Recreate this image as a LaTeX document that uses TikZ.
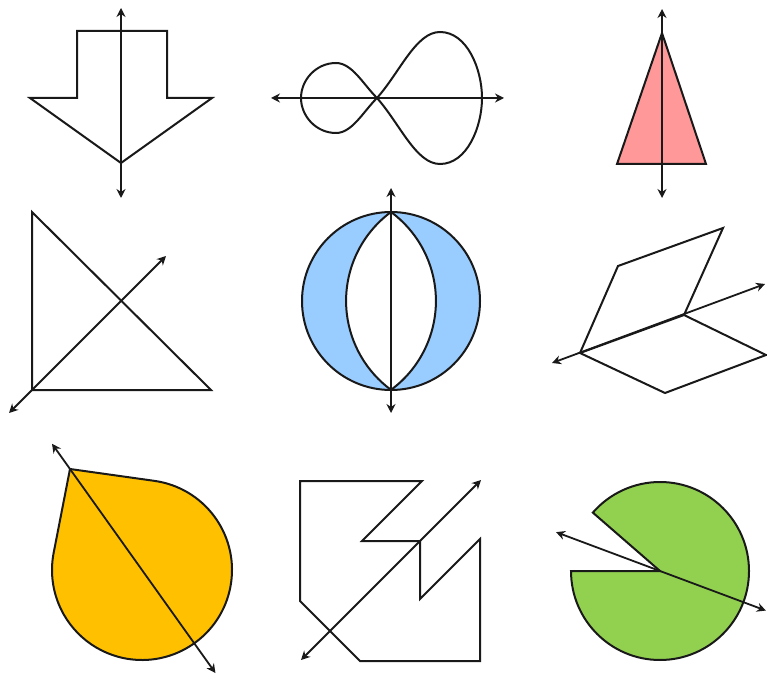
\documentclass[tikz,border=0pt]{standalone}
\usepackage{xcolor}
\usepackage{tikz}
\usetikzlibrary{arrows.meta, calc}
\definecolor{mydark}{RGB}{25,25,25}
\definecolor{mypink}{RGB}{255,153,153}
\definecolor{myblue}{RGB}{153,204,255}
\definecolor{myorange}{RGB}{255,192,0}
\definecolor{mygreen}{RGB}{146,208,80}
\tikzset{
  outline/.style={line width=2pt, color=mydark, line join=miter},
  symaxis/.style={{Stealth[length=9pt,width=9pt,inset=3pt]}-{Stealth[length=9pt,width=9pt,inset=3pt]}, line width=1.8pt, color=mydark}
}
\begin{document}
\begin{tikzpicture}[x=1pt, y=1pt]
  \useasboundingbox (0,0) rectangle (767,675);

  % Arrow pointing down
  \draw[outline] (77,644) -- (167,644) -- (167,577) -- (212,577) -- (121,512) -- (30,577) -- (77,577) -- cycle;
  \coordinate (a1) at (121,667);
  \coordinate (a2) at (121,477);
  \draw[symaxis] (a1) -- (a2);

  % Figure eight with one big loop
  \coordinate (E) at (377,577);
  \draw[outline] (E) .. controls (363,591) and (352,612) .. (336,612)
    .. controls (316,612) and (301,595) .. (301,577)
    .. controls (301,559) and (316,542) .. (336,542)
    .. controls (352,542) and (363,563) .. (E)
    .. controls (400,603) and (416,643) .. (440,643)
    .. controls (467,643) and (482,606) .. (482,577)
    .. controls (482,548) and (467,511) .. (440,511)
    .. controls (416,511) and (400,551) .. (E);
  \coordinate (b1) at (271,577);
  \coordinate (b2) at (504,577);
  \draw[symaxis] (b1) -- (b2);

  % Isosceles triangle
  \draw[outline, fill=mypink] (662,642) -- (706,511) -- (617,511) -- cycle;
  \coordinate (c1) at (662,666);
  \coordinate (c2) at (662,477);
  \draw[symaxis] (c1) -- (c2);

  % Right isosceles triangle
  \draw[outline] (32,463) coordinate (T) -- (32,285) coordinate (R) -- (211,285) -- cycle;
  \coordinate (d1) at (9,262);
  \coordinate (d2) at (166,419);
  \draw[symaxis] (d1) -- (d2);

  % Circle with a lens cut out
  \coordinate (O) at (391,374);
  \fill[myblue] (O) circle (89);
  \draw[outline, fill=white] (391,463) arc[start angle=126.4, end angle=233.6, radius=110.5]
    arc[start angle=-53.6, end angle=53.6, radius=110.5] -- cycle;
  \draw[outline] (O) circle (89);
  \coordinate (e1) at (391,487);
  \coordinate (e2) at (391,262);
  \draw[symaxis] (e1) -- (e2);

  % Two rhombi sharing an edge
  \coordinate (P) at (580,322);
  \coordinate (Q) at (684,360);
  \draw[outline] (P) -- (618,409) -- (723,447) -- (Q) -- (766,320) -- (665,282) -- (P) -- (Q);
  \coordinate (f1) at (552,312);
  \coordinate (f2) at (765,391);
  \draw[symaxis] (f1) -- (f2);

  % Teardrop
  \coordinate (tip) at (70,206);
  \coordinate (ctr) at (142,105);
  \draw[outline, fill=myorange] (tip) -- ($(ctr)+(82:90)$) arc[start angle=82, end angle=-191, radius=90] -- cycle;
  \coordinate (g1) at ($(tip)!-0.25!(ctr)$);
  \coordinate (g2) at ($(tip)!2.02!(ctr)$);
  \draw[symaxis] (g1) -- (g2);

  % Zigzag polygon
  \draw[outline] (300,194) -- (422,194) -- (362,134) -- (420,134) -- (420,76) -- (480,136)
    -- (480,14) -- (360,14) -- (300,74) -- cycle;
  \coordinate (h1) at (301,15);
  \coordinate (h2) at (481,195);
  \draw[symaxis] (h1) -- (h2);

  % Circle with a wedge missing
  \coordinate (pc) at (660,104);
  \draw[outline, fill=mygreen] (pc) -- ($(pc)+(180:89)$) arc[start angle=180, end angle=499, radius=89] -- cycle;
  \coordinate (k1) at ($(pc)+(159.5:111)$);
  \coordinate (k2) at ($(pc)+(-20.5:113)$);
  \draw[symaxis] (k1) -- (k2);
\end{tikzpicture}
\end{document}
